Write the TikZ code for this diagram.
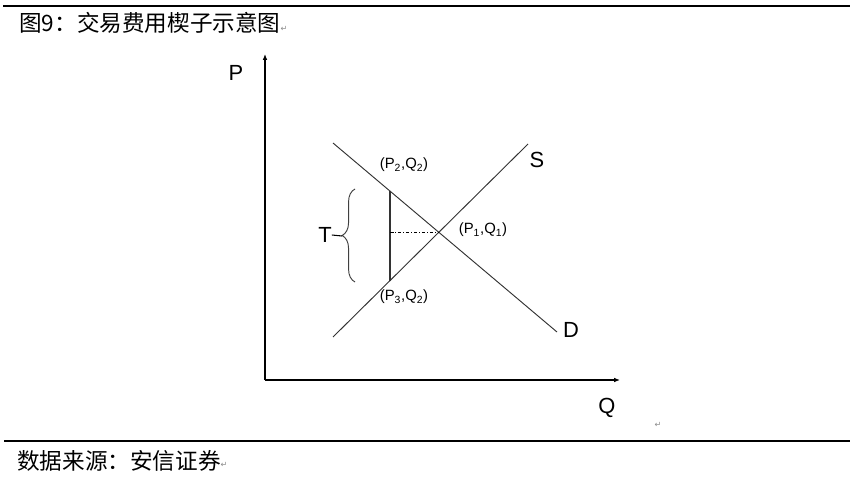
\documentclass[tikz,border=0pt]{standalone}
\usepackage{fontspec}
\setmainfont{Liberation Sans}
\newfontfamily\cjk{Noto Sans CJK SC}
\newfontfamily\symb{DejaVu Sans}
\usetikzlibrary{positioning}
\usetikzlibrary{arrows.meta}
\usetikzlibrary{decorations.pathreplacing}

\begin{document}
\begin{tikzpicture}[
		x=0.03cm, y=-0.03cm,
		axis/.style={line width=1.3pt, -{Latex[length=5pt,width=4pt]}},
		curve/.style={line width=0.8pt, black!80},
		rule/.style={line width=1.2pt},
		biglbl/.style={font=\fontsize{18.7}{20}\selectfont, inner sep=0pt},
		ptlbl/.style={font=\fontsize{12.7}{14}\selectfont, inner sep=0pt},
		cjklbl/.style={font=\cjk\fontsize{19.3}{21}\selectfont, inner sep=0pt, anchor=west},
		pmark/.style={font=\symb\fontsize{7}{8}\selectfont, text=black!45, inner sep=0pt}
		]
		
		\useasboundingbox (0,0) rectangle (850,479);
		
		% Rules, title and source
		\coordinate (rt1) at (3,6);
		\coordinate (rt2) at (850,6);
		\coordinate (rb1) at (4,441);
		\coordinate (rb2) at (850,441);
		\draw[rule] (rt1)--(rt2);
		\draw[rule] (rb1)--(rb2);
		\node[cjklbl] (title) at (19,23) {图9：交易费用楔子示意图};
		\node[pmark] (pm1) at (284,29) {↵};
		\node[cjklbl] (src) at (17,461) {数据来源：安信证券};
		\node[pmark] (pm2) at (224,465) {↵};
		\node[pmark] (pm3) at (658,425) {↵};
		
		% Axes
		\coordinate (o)  at (265,380);
		\coordinate (py) at (265,54);
		\coordinate (qx) at (620,380);
		\draw[axis] (o)--(py);
		\draw[axis] (o)--(qx);
		\node[biglbl] (P) at (236,73) {P};
		\node[biglbl] (Q) at (607,408) {Q};
		
		% Demand and supply
		\coordinate (d1) at (333,143);
		\coordinate (d2) at (557,332);
		\coordinate (s1) at (333,337);
		\coordinate (s2) at (528,144);
		\draw[curve] (d1)--(d2);
		\draw[curve] (s1)--(s2);
		\node[biglbl] (S) at (537,160) {S};
		\node[biglbl] (D) at (571,330) {D};
		
		% Equilibrium and wedge
		\coordinate (e1) at (intersection of d1--d2 and s1--s2);
		\coordinate (w2) at (390,190.5);
		\coordinate (w3) at (390,281);
		\draw[line width=1.1pt, black!80] (w2)--(w3);
		\draw[line width=0.6pt, dash pattern=on 3pt off 1.5pt on 0.8pt off 1.5pt] (w2 |- e1)--(e1);
		\node[ptlbl] (pq1) at (483,230) {(P\textsubscript{1},Q\textsubscript{1})};
		\node[ptlbl] (pq2) at (404,165) {(P\textsubscript{2},Q\textsubscript{2})};
		\node[ptlbl] (pq3) at (404,297) {(P\textsubscript{3},Q\textsubscript{2})};
		
		% Brace for T
		\coordinate (b1) at (355,282);
		\coordinate (b2) at (355,189);
		\coordinate (btip) at (342,236);
		\draw[line width=0.8pt, black!75, decorate, decoration={brace, amplitude=11pt}] (b1)--(b2);
		\node[biglbl] (T) at (325,235) {T};
		\draw[line width=0.9pt] (T.east)--(btip);
		
	\end{tikzpicture}
\end{document}
